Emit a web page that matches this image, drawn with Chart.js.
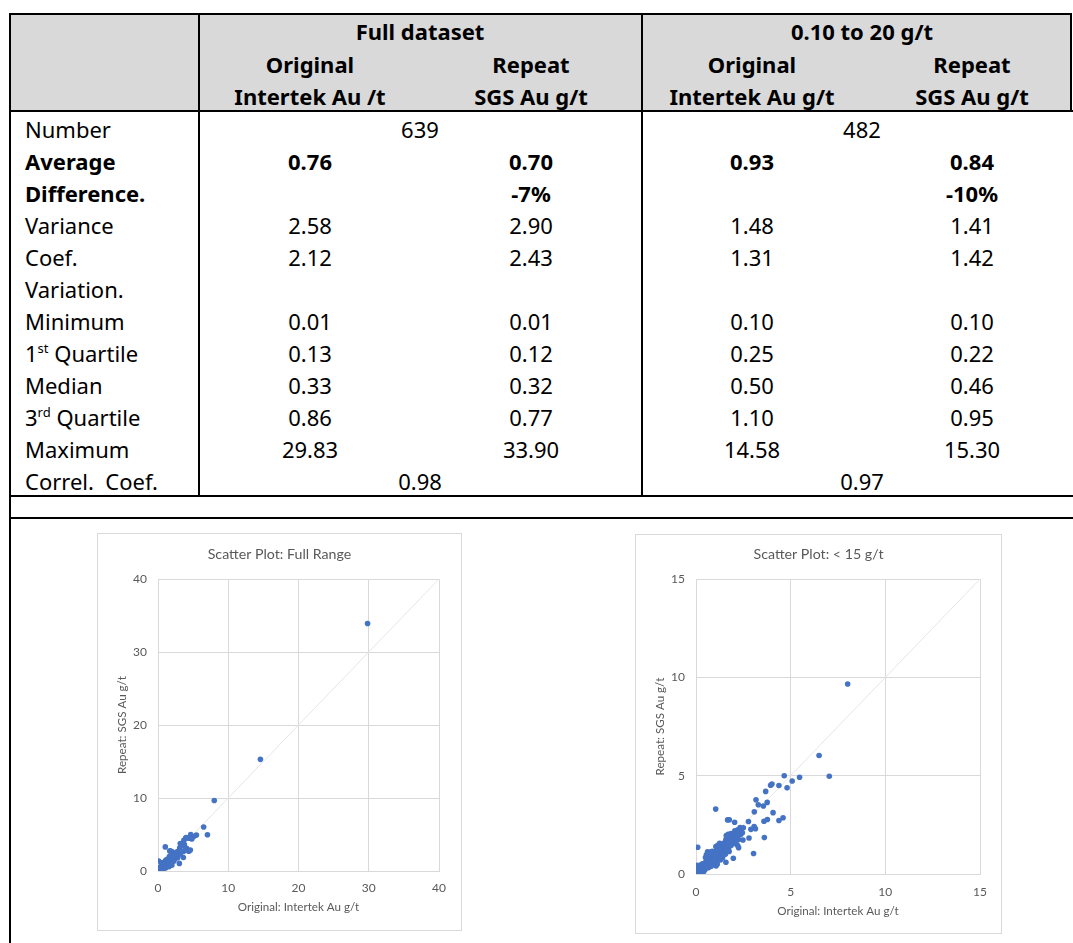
<!DOCTYPE html>
<html>
<head>
<meta charset="utf-8">
<script src="https://cdn.jsdelivr.net/npm/chart.js@4.4.1/dist/chart.umd.min.js"></script>
<style>
  body { margin:0; background:#fff; width:1073px; height:943px; overflow:hidden; position:relative;
         font-family:"Noto Sans", sans-serif; color:#000; }
  .hline { position:absolute; background:#000; height:2px; }
  .vline { position:absolute; background:#000; width:2px; }
  .shade { position:absolute; background:#d9d9d9; }
  .cell { position:absolute; height:32px; line-height:32px; font-size:22px; white-space:pre; }
  .mid { transform:translateX(-50%); }
  .b { font-weight:700; }
  sup { font-size:13px; line-height:0; vertical-align:9px; }
  .frame { position:absolute; border:1px solid #d9d9d9; background:#fff; }
  .frame canvas { display:block; }
</style>
</head>
<body>
<div class="frame" style="left:97px; top:533px;"><canvas id="fullRange" width="363" height="396"></canvas></div>
<div class="frame" style="left:635px; top:534px;"><canvas id="below15" width="365" height="398"></canvas></div>
<script>
// ---- Summary statistics ----
const groupHeaders = ['Full dataset', '0.10 to 20 g/t'];
const labHeaders = ['Original', 'Repeat', 'Original', 'Repeat'];
const unitHeaders = ['Intertek Au /t', 'SGS Au g/t', 'Intertek Au g/t', 'SGS Au g/t'];
const statNames = ['Number', 'Average', 'Difference.', 'Variance', 'Coef.', 'Variation.', 'Minimum',
                   '1<sup>st</sup> Quartile', 'Median', '3<sup>rd</sup> Quartile', 'Maximum', 'Correl.  Coef.'];
const boldStats = ['Average', 'Difference.'];
const fullOriginal = ['', '0.76', '', '2.58', '2.12', '', '0.01', '0.13', '0.33', '0.86', '29.83', ''];
const fullRepeat   = ['', '0.70', '-7%', '2.90', '2.43', '', '0.01', '0.12', '0.32', '0.77', '33.90', ''];
const cutOriginal  = ['', '0.93', '', '1.48', '1.31', '', '0.10', '0.25', '0.50', '1.10', '14.58', ''];
const cutRepeat    = ['', '0.84', '-10%', '1.41', '1.42', '', '0.10', '0.22', '0.46', '0.95', '15.30', ''];
const pairedFull = { 0: '639', 11: '0.98' };
const pairedCut  = { 0: '482', 11: '0.97' };

// ---- Paired assays, g/t Au ----
const originalAu = [
  29.83, 14.58, 8.01, 6.50, 7.04, 4.66, 5.08, 5.47, 4.38, 4.81,
  3.94, 4.01, 3.68, 3.17, 3.29, 3.56, 3.76, 3.08, 4.07, 4.38,
  4.60, 3.59, 3.77, 2.77, 3.07, 3.14, 2.90, 2.33, 1.04, 1.76,
  1.67, 2.04, 3.61, 3.04, 2.80, 2.48, 2.25, 1.97, 1.58, 0.09,
  0.61, 1.12, 1.06, 0.02, 0.04, 0.06, 0.08, 0.10, 0.12, 0.14,
  0.16, 0.18, 0.20, 0.22, 0.24, 0.26, 0.28, 0.30, 0.32, 0.34,
  0.36, 0.38, 0.40, 0.42, 0.44, 0.46, 0.48, 0.50, 0.03, 0.06,
  0.12, 0.10, 0.28, 0.40, 0.24, 0.46, 0.20, 0.34, 0.52, 0.55,
  0.58, 0.60, 0.62, 0.65, 0.68, 0.70, 0.72, 0.75, 0.78, 0.80,
  0.82, 0.85, 0.88, 0.90, 0.92, 0.95, 0.98, 1.00, 0.55, 0.62,
  0.70, 0.66, 0.80, 0.90, 0.50, 0.76, 0.86, 0.96, 1.02, 1.05,
  1.08, 1.10, 1.12, 1.15, 1.18, 1.20, 1.22, 1.25, 1.28, 1.30,
  1.32, 1.35, 1.38, 1.40, 1.42, 1.45, 1.48, 1.50, 1.05, 1.15,
  1.30, 1.10, 1.40, 1.25, 1.52, 1.55, 1.58, 1.60, 1.62, 1.65,
  1.68, 1.70, 1.72, 1.75, 1.78, 1.80, 1.82, 1.85, 1.88, 1.90,
  1.92, 1.95, 1.98, 2.00, 1.60, 1.70, 1.85, 1.55, 1.75, 2.05,
  2.10, 2.15, 2.20, 2.25, 2.30, 2.35, 2.40, 2.45, 2.50, 2.10,
  2.20, 2.05, 0.05, 0.15, 0.08, 0.22, 0.30, 0.18, 0.36, 0.44,
  0.54, 0.58, 0.64, 0.74, 0.84, 0.94, 1.00, 1.14, 1.24, 1.34,
  1.44, 1.54, 1.64, 1.74, 1.84, 1.94, 2.14, 2.28
];
const repeatAu = [
  33.90, 15.30, 9.66, 6.03, 4.97, 5.00, 4.73, 4.92, 4.50, 4.38,
  4.51, 4.58, 4.20, 3.77, 3.52, 3.46, 3.64, 3.16, 3.12, 2.72,
  2.86, 2.68, 2.77, 2.67, 2.41, 2.30, 2.27, 2.36, 3.30, 2.76,
  2.75, 2.63, 1.85, 1.04, 1.83, 1.73, 1.34, 0.80, 0.60, 1.36,
  1.13, 0.50, 0.41, 0.03, 0.08, 0.02, 0.12, 0.05, 0.16, 0.09,
  0.22, 0.12, 0.26, 0.17, 0.30, 0.20, 0.34, 0.24, 0.38, 0.27,
  0.42, 0.30, 0.46, 0.33, 0.50, 0.36, 0.54, 0.40, 0.30, 0.44,
  0.40, 0.24, 0.06, 0.12, 0.46, 0.20, 0.36, 0.52, 0.62, 0.44,
  0.70, 0.50, 0.56, 0.76, 0.46, 0.63, 0.82, 0.58, 0.90, 0.70,
  0.55, 0.86, 0.72, 0.96, 0.66, 0.83, 1.06, 0.78, 0.98, 1.08,
  1.04, 0.32, 0.40, 0.50, 0.84, 1.12, 1.16, 0.60, 0.90, 1.10,
  0.75, 1.22, 0.95, 1.30, 1.00, 0.86, 1.15, 1.36, 1.05, 0.95,
  1.25, 1.46, 1.15, 1.00, 1.30, 1.55, 1.20, 1.40, 1.40, 1.46,
  0.72, 0.62, 0.82, 1.56, 1.60, 1.30, 1.75, 1.45, 1.20, 1.65,
  1.86, 1.50, 1.35, 1.70, 1.90, 1.55, 1.76, 1.45, 1.96, 1.65,
  1.80, 2.00, 1.70, 1.55, 1.95, 2.02, 2.06, 1.00, 1.15, 1.85,
  2.10, 1.95, 2.25, 1.75, 2.20, 2.00, 2.30, 2.10, 2.35, 1.60,
  1.45, 2.20, 0.18, 0.04, 0.30, 0.08, 0.14, 0.32, 0.18, 0.26,
  0.30, 0.36, 0.64, 0.70, 0.68, 0.76, 0.98, 1.08, 1.20, 1.32,
  1.42, 1.50, 1.58, 1.62, 1.70, 1.90, 2.04, 2.12
];
const fullRangeTicks = [0, 10, 20, 30, 40];
const below15Ticks = [0, 5, 10, 15];

// ---- Table drawing ----
function box(cls, l, t, w, h) {
  const d = document.createElement('div');
  d.className = cls;
  d.style.left = l + 'px'; d.style.top = t + 'px';
  if (w != null) d.style.width = w + 'px';
  if (h != null) d.style.height = h + 'px';
  document.body.appendChild(d);
  return d;
}
function text(html, x, cy, centered, bold) {
  const d = box('cell' + (centered ? ' mid' : '') + (bold ? ' b' : ''), x, cy - 16);
  d.innerHTML = html;
}

box('shade', 11, 15, 1060, 96);
box('hline', 9, 13, 1063);
box('hline', 9, 110, 1064);
box('hline', 9, 495, 1064);
box('hline', 9, 517, 1064);
box('vline', 9, 13, null, 930);
box('vline', 198, 13, null, 484);
box('vline', 641, 13, null, 484);
box('vline', 1070, 13, null, 99);

const colX = [310, 531, 752, 972];
const groupX = [420, 862];
groupHeaders.forEach((h, i) => text(h, groupX[i], 31, true, true));
labHeaders.forEach((h, i) => text(h, colX[i], 64, true, true));
unitHeaders.forEach((h, i) => text(h, colX[i], 96, true, true));

const columns = [fullOriginal, fullRepeat, cutOriginal, cutRepeat];
statNames.forEach((name, r) => {
  const cy = 129 + 32 * r;
  const bold = boldStats.includes(name);
  text(name, 25, cy, false, bold);
  columns.forEach((col, c) => { if (col[r]) text(col[r], colX[c], cy, true, bold); });
  if (pairedFull[r]) text(pairedFull[r], groupX[0], cy, true, false);
  if (pairedCut[r]) text(pairedCut[r], groupX[1], cy, true, false);
});

// ---- Scatter plots ----
const grey = '#595959';
function scatterPlot(id, o) {
  const points = [];
  originalAu.forEach((x, i) => {
    const y = repeatAu[i];
    if (x <= o.max && y <= o.max) points.push({ x, y });
  });
  const lineOf = [0, o.max].map(v => ({ x: v, y: v }));
  const axisFont = { family: 'Lato', size: 11.6 };
  const tickFont = { family: 'Lato', size: 12 };
  new Chart(document.getElementById(id), {
    type: 'scatter',
    data: {
      datasets: [
        { data: points, backgroundColor: '#4472c4', borderColor: '#4472c4',
          pointRadius: 2.8, borderWidth: 0, order: 0 },
        { data: lineOf, showLine: true, borderColor: '#e6e6e6', borderWidth: 1,
          pointRadius: 0, order: 1 }
      ]
    },
    options: {
      responsive: false, animation: false, devicePixelRatio: 1,
      layout: { padding: 0 },
      plugins: {
        legend: { display: false }, tooltip: { enabled: false },
        title: { display: true, text: o.title, color: grey,
                 font: { family: 'Lato', size: 14.2, weight: 'normal' },
                 padding: { top: o.titleTop, bottom: o.titleBottom } }
      },
      scales: {
        x: {
          type: 'linear', min: 0, max: o.max,
          afterBuildTicks: s => { s.ticks = o.ticks.map(v => ({ value: v })); },
          afterFit: s => { s.height = o.xHeight; },
          grid: { color: '#d9d9d9', drawTicks: false },
          border: { color: '#d9d9d9' },
          ticks: { color: grey, font: tickFont, padding: o.xTickPad },
          title: { display: true, text: 'Original: Intertek Au g/t', color: grey, font: axisFont,
                   padding: { top: 0, bottom: o.xTitlePad } }
        },
        y: {
          type: 'linear', min: 0, max: o.max,
          afterBuildTicks: s => { s.ticks = o.ticks.map(v => ({ value: v })); },
          afterFit: s => { s.width = o.yWidth; },
          grid: { color: '#d9d9d9', drawTicks: false },
          border: { color: '#d9d9d9' },
          ticks: { color: grey, font: tickFont, padding: 11 },
          title: { display: true, text: 'Repeat: SGS Au g/t', color: grey, font: axisFont,
                   padding: { top: 17, bottom: 0 } }
        },
        // empty margin on the right of the plot area
        gutter: {
          type: 'linear', position: 'right', display: true,
          grid: { display: false, drawTicks: false }, border: { display: false },
          ticks: { display: false },
          afterFit: s => { s.width = o.padRight; }
        }
      }
    }
  });
}

scatterPlot('fullRange', { title: 'Scatter Plot: Full Range', max: 40, ticks: fullRangeTicks,
  padRight: 22, titleTop: 11.5, titleBottom: 16.5, xHeight: 59, yWidth: 60, xTickPad: 9.5, xTitlePad: 15.4 });
scatterPlot('below15', { title: 'Scatter Plot: < 15 g/t', max: 15, ticks: below15Ticks,
  padRight: 21, titleTop: 10.5, titleBottom: 16.5, xHeight: 59, yWidth: 60, xTickPad: 10.5, xTitlePad: 15.2 });
</script>
</body>
</html>
